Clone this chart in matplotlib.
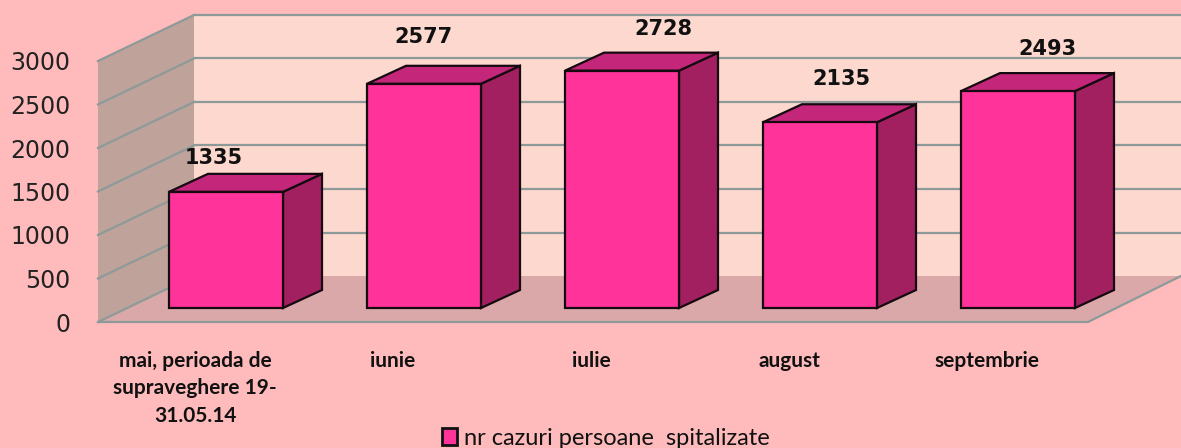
import numpy as np
import matplotlib
matplotlib.use('Agg')
import matplotlib.pyplot as plt
from matplotlib.patches import Polygon

# date
categories = ['mai, perioada de\nsupraveghere 19-\n31.05.14', 'iunie', 'iulie', 'august', 'septembrie']
values = [1335, 2577, 2728, 2135, 2493]
y_ticks = [0, 500, 1000, 1500, 2000, 2500, 3000]
series_name = 'nr cazuri persoane  spitalizate'

# deplasarea etichetelor fata de bara, in pixeli
label_dx = [-12, -1, 41, 21, 29]
label_dy = [34, 47, 42, 43, 42]

W, H = 1181, 448
BG = '#FFBBBB'
GRID = '#8E9A9A'

fig = plt.figure(figsize=(W / 100, H / 100), dpi=100, facecolor=BG)
# axa acopera planul din fata al cutiei 3D
ax = fig.add_axes([98 / W, 1 - 322 / H, 990 / W, 261 / H])
ax.set_xlim(-0.5, 4.5)
ax.set_ylim(0, 3000)
ax.patch.set_visible(False)
for s in ax.spines.values():
    s.set_visible(False)

px_x = 1 / 198      # unitati x pe pixel
px_y = 3000 / 261   # unitati y pe pixel

# adancimea cutiei
depth_x = 96 * px_x
depth_y = 46 * px_y
x_left, x_right = -0.5, 4.5
x_end = x_right + 93 * px_x


def poly(pts, **kw):
    p = Polygon(pts, closed=True, clip_on=False, **kw)
    ax.add_patch(p)
    return p


top = y_ticks[-1]
# peretele din spate, peretele stang, podeaua
poly([(x_left + depth_x, depth_y), (x_end, depth_y), (x_end, top + depth_y), (x_left + depth_x, top + depth_y)],
     facecolor='#FDD8CE', edgecolor='none', zorder=1)
poly([(x_left, 0), (x_left + depth_x, depth_y), (x_left + depth_x, top + depth_y), (x_left, top)],
     facecolor='#BFA39B', edgecolor='none', zorder=1)
poly([(x_left, 0), (x_right, 0), (x_end, depth_y), (x_left + depth_x, depth_y)],
     facecolor='#DAA8A8', edgecolor='none', zorder=1)

# liniile de grila
for t in y_ticks:
    ax.plot([x_left, x_left + depth_x], [t, t + depth_y], color=GRID, lw=1.6, clip_on=False, zorder=2)
    if t > 0:
        ax.plot([x_left + depth_x, x_end], [t + depth_y, t + depth_y], color=GRID, lw=1.6, clip_on=False, zorder=2)
ax.plot([x_left, x_right, x_end], [0, 0, depth_y], color=GRID, lw=1.6, clip_on=False, zorder=2)

# barele
positions = np.arange(len(values))
bar_w = 114 * px_x
shift_x = 29 * px_x
shift_y = 14 * px_y
bar_dx = 39 * px_x
bar_dy = 18 * px_y
ax.bar(positions + shift_x, values, width=bar_w, bottom=shift_y, color='#FF3399',
       edgecolor='#150A10', linewidth=1.6, clip_on=False, zorder=5)
for i, v in enumerate(values):
    x0 = positions[i] + shift_x - bar_w / 2
    x1 = x0 + bar_w
    y0 = shift_y
    y1 = shift_y + v
    poly([(x1, y0), (x1 + bar_dx, y0 + bar_dy), (x1 + bar_dx, y1 + bar_dy), (x1, y1)],
         facecolor='#A32060', edgecolor='#150A10', linewidth=1.6, zorder=4)
    poly([(x0, y1), (x1, y1), (x1 + bar_dx, y1 + bar_dy), (x0 + bar_dx, y1 + bar_dy)],
         facecolor='#C4267A', edgecolor='#150A10', linewidth=1.6, zorder=4)
    ax.annotate(str(v), (positions[i] + shift_x, y1), xytext=(label_dx[i], label_dy[i]),
                textcoords='offset pixels', ha='center', va='center',
                fontsize=15, fontweight='bold', color='#111111', annotation_clip=False, zorder=6)

# axe
ax.set_yticks(y_ticks)
ax.tick_params(axis='y', length=0, pad=20, labelsize=17, labelcolor='#222222')
ax.set_xticks(positions - 2 * px_x)
ax.set_xticklabels(categories, fontfamily='Lato', fontweight='bold', fontsize=15,
                   color='#111111', linespacing=1.45, va='top')
ax.tick_params(axis='x', length=0, pad=21)

leg = fig.legend(handles=[plt.Rectangle((0, 0), 1, 1, facecolor='#FF3399', edgecolor='#111111', linewidth=2)],
                 labels=[series_name], loc='center', bbox_to_anchor=(606 / W, 1 - 438 / H),
                 frameon=False, handlelength=0.65, handleheight=0.75, handletextpad=0.3,
                 prop={'family': 'Lato', 'size': 17})
for t in leg.get_texts():
    t.set_color('#111111')

fig.savefig('out.png', dpi=100, facecolor=BG)
